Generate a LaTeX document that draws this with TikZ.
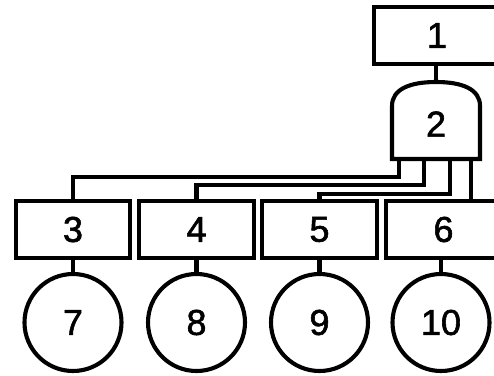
\documentclass[tikz,border=0pt]{standalone}
\usepackage{fontspec}
\setmainfont{Liberation Sans}
\newfontfamily\digfont[FakeBold=1.6]{Liberation Sans}
\begin{document}
\begin{tikzpicture}[x=1pt,y=-1pt, line width=4.1pt,
  lbl/.style={font=\digfont\fontsize{36}{36}\selectfont, inner sep=0pt},
  box/.style={draw, minimum height=57pt, inner sep=0pt, font=\digfont\fontsize{36}{36}\selectfont},
  ball/.style={draw, circle, minimum size=97pt, inner sep=0pt, font=\digfont\fontsize{36}{36}\selectfont},
  wire/.style={draw}]
\useasboundingbox (0,0) rectangle (494,375);
\clip (0,0) rectangle (494,375);
% top box
\node[box, minimum width=126pt] (b1) at (437,35.5) {1};
% gate
\draw[line join=miter] (392,159) -- (392,106) .. controls (392,89) and (410,82) .. (436,82) .. controls (462,82) and (480,89) .. (480,106) -- (480,159) -- cycle;
\node[lbl] (g2) at (436,124) {2};
\coordinate (gtop) at (436,82);
\coordinate (o3) at (399,159);
\coordinate (o4) at (424,159);
\coordinate (o5) at (450,159);
\coordinate (o6) at (471,159);
% boxes
\node[box, minimum width=114pt] (b3) at (73,229.5) {3};
\node[box, minimum width=115pt] (b4) at (196.5,229.5) {4};
\node[box, minimum width=115pt] (b5) at (319.5,229.5) {5};
\node[box, minimum width=115pt] (b6) at (443.5,229.5) {6};
% circles
\node[ball] (c7) at (73,322.5) {7};
\node[ball] (c8) at (196.5,322.5) {8};
\node[ball] (c9) at (319.5,322.5) {9};
\node[ball] (c10) at (441,322.5) {10};
% connectors
\draw[wire] (b1.south -| gtop) -- (gtop);
\draw[wire] (o3) |- (73,177) -- (b3.north);
\draw[wire] (o4) |- (196.5,185) -- (b4.north);
\draw[wire] (o5) |- (319.5,194) -- (b5.north);
\draw[wire] (o6) -- (o6 |- b6.north);
\draw[wire] (b3.south) -- (c7.north);
\draw[wire] (b4.south) -- (c8.north);
\draw[wire] (b5.south) -- (c9.north);
\draw[wire] (b6.south -| c10.north) -- (c10.north);
\end{tikzpicture}
\end{document}
